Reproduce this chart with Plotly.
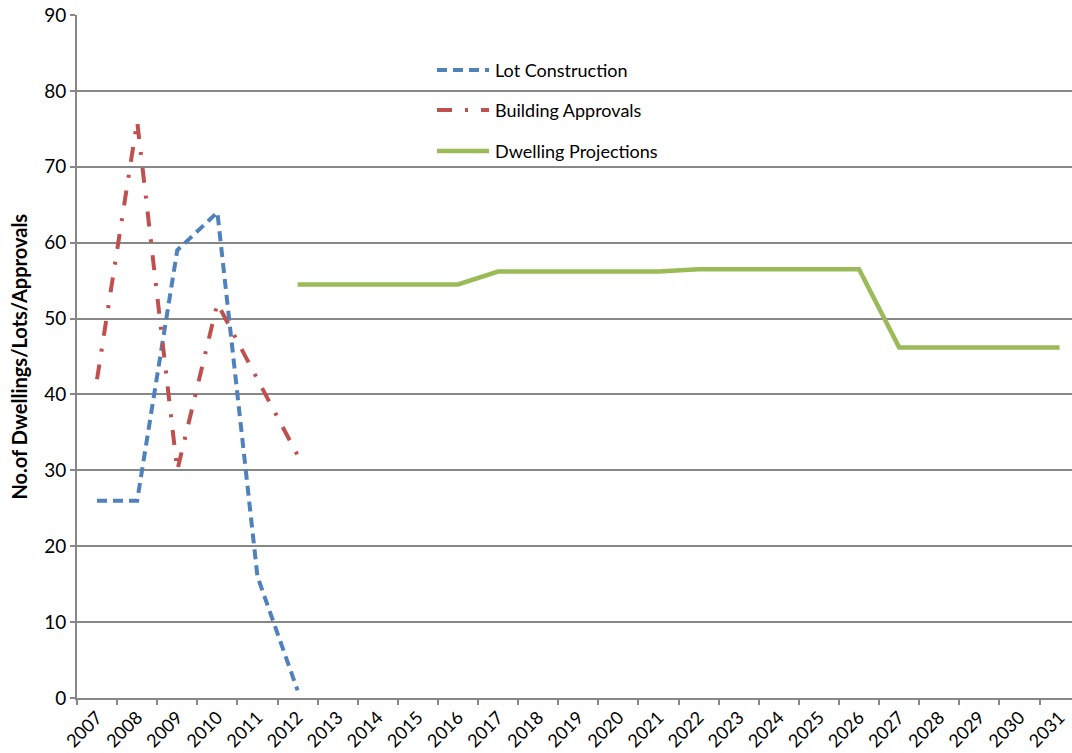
import plotly.graph_objects as go

# Category axis: financial years
years = [str(y) for y in range(2007, 2032)]

# Series values (None where a series has no data)
lot_construction = [26, 26, 59, 64, 16, 1] + [None] * 19
building_approvals = [42, 76, 30, 52, 42, 32] + [None] * 19
dwelling_projections = ([None] * 5
                        + [54.5, 54.5, 54.5, 54.5, 54.5]
                        + [56.2, 56.2, 56.2, 56.2, 56.2]
                        + [56.5, 56.5, 56.5, 56.5, 56.5]
                        + [46.2, 46.2, 46.2, 46.2, 46.2])

series_names = ["Lot Construction", "Building Approvals", "Dwelling Projections"]
y_ticks = list(range(0, 91, 10))

BLUE = "#4F81BD"
RED = "#C0504D"
GREEN = "#9BBB59"
GRID = "#878787"
FONT = "Lato, Calibri, sans-serif"

blue_dash = "10px,6px"
red_dash = "15px,13px,3px,13px"

fig = go.Figure()
fig.add_trace(go.Scatter(x=years, y=lot_construction, mode="lines",
                         name=series_names[0], connectgaps=False,
                         line=dict(color=BLUE, width=4, dash=blue_dash)))
fig.add_trace(go.Scatter(x=years, y=building_approvals, mode="lines",
                         name=series_names[1], connectgaps=False,
                         line=dict(color=RED, width=4, dash=red_dash)))
fig.add_trace(go.Scatter(x=years, y=dwelling_projections, mode="lines",
                         name=series_names[2], connectgaps=False,
                         line=dict(color=GREEN, width=4.5)))

W, H = 1072, 753
ML, MR, MT, MB = 77, 0, 15, 55
pw, ph = W - ML - MR, H - MT - MB


def px_x(px):
    return (px - ML) / pw


def px_y(py):
    return (H - MB - py) / ph


# Legend drawn inside the plot area: sample line + label per series
legend_rows = [(70, BLUE, blue_dash, 4), (110, RED, red_dash, 4), (151, GREEN, "solid", 4.5)]
shapes = []
annotations = []
for (py, color, dash, w), name in zip(legend_rows, series_names):
    shapes.append(dict(type="line", xref="paper", yref="paper",
                       x0=px_x(437), x1=px_x(489), y0=px_y(py), y1=px_y(py),
                       line=dict(color=color, width=w, dash=dash)))
    annotations.append(dict(xref="paper", yref="paper", x=px_x(493), y=px_y(py),
                            xanchor="left", yanchor="middle", showarrow=False,
                            text=name, font=dict(family=FONT, size=18, color="#000")))

annotations.append(dict(xref="paper", yref="paper", x=0, y=0.5, xshift=-59,
                        xanchor="center", yanchor="middle", showarrow=False,
                        textangle=-90, text="<b>No.of Dwellings/Lots/Approvals</b>",
                        font=dict(family=FONT, size=20, color="#000")))

fig.update_layout(
    width=W, height=H,
    margin=dict(l=ML, r=MR, t=MT, b=MB),
    paper_bgcolor="white", plot_bgcolor="white",
    showlegend=False,
    shapes=shapes, annotations=annotations,
    font=dict(family=FONT, color="#000"),
)
fig.update_xaxes(type="category", categoryorder="array", categoryarray=years,
                 range=[-0.5, 24.31], tickson="boundaries",
                 ticks="outside", ticklen=5, tickwidth=2, tickcolor=GRID,
                 tickangle=-45, tickfont=dict(family=FONT, size=18),
                 showline=True, linecolor=GRID, linewidth=2,
                 showgrid=False, zeroline=False)
fig.update_yaxes(range=[0, 90], tickvals=y_ticks,
                 ticks="outside", ticklen=5, tickwidth=2, tickcolor=GRID,
                 tickfont=dict(family=FONT, size=19),
                 showline=True, linecolor=GRID, linewidth=2,
                 showgrid=True, gridcolor=GRID, gridwidth=1.5,
                 zeroline=False)

fig.write_html("out.html")
